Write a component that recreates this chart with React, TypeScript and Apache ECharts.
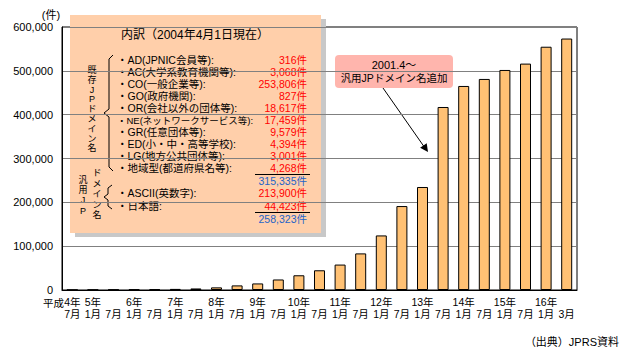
import React, { useEffect, useRef } from "react";
import * as echarts from "echarts";

// x-axis: upper line (year) and lower line (month)
const yearLabels = ["4年", "5年", "", "6年", "", "7年", "", "8年", "", "9年", "", "10年", "", "11年", "", "12年", "", "13年", "", "14年", "", "15年", "", "16年", ""];
const monthLabels = ["7月", "1月", "7月", "1月", "7月", "1月", "7月", "1月", "7月", "1月", "7月", "1月", "7月", "1月", "7月", "1月", "7月", "1月", "7月", "1月", "7月", "1月", "7月", "1月", "3月"];
// number of JP domain names
const domainCounts = [400, 700, 1000, 1400, 1900, 2500, 3500, 6000, 10500, 15000, 24000, 33600, 45000, 58000, 83500, 124500, 191500, 235000, 417500, 465500, 481500, 502000, 516500, 555000, 573658];
const yTicks = [0, 100000, 200000, 300000, 400000, 500000, 600000];

// breakdown (as of 2004-04-01)
const existingNames = ["・AD(JPNIC会員等):", "・AC(大学系教育機関等):", "・CO(一般企業等):", "・GO(政府機関):", "・OR(会社以外の団体等):", "・NE(ネットワークサービス等):", "・GR(任意団体等):", "・ED(小・中・高等学校):", "・LG(地方公共団体等):", "・地域型(都道府県名等):"];
const existingCounts = [316, 3068, 253806, 827, 18617, 17459, 9579, 4394, 3001, 4268];
const genericNames = ["・ASCII(英数字):", "・日本語:"];
const genericCounts = [213900, 44423];
const existingLabel = ["既", "存", "J", "P", "ド", "メ", "イ", "ン", "名"];
const genericLabelA = ["汎", "用", "J", "P"];
const genericLabelB = ["ド", "メ", "イ", "ン", "名"];

const MIX = "'Liberation Sans', 'Noto Sans CJK JP', sans-serif";
const fmt = (n: number) => n.toLocaleString("en-US");

export default function App() {
  const ref = useRef<HTMLDivElement>(null);
  useEffect(() => {
    document.body.style.margin = "0";
    const chart = echarts.init(ref.current!, null, { renderer: "svg" });
    const cats = monthLabels.map((m, i) => yearLabels[i] + m + i);

    const txt = (text: string, x: number, y: number, opts: any = {}) => {
      const fs = opts.fontSize || 11;
      return {
        type: "text",
        x,
        y,
        style: {
          text,
          fill: opts.fill || "#000",
          fontSize: fs,
          fontFamily: opts.fontFamily || MIX,
          align: opts.align || "left",
          verticalAlign: "middle",
          lineHeight: opts.lineHeight || fs,
        },
      };
    };

    const graphics: any[] = [];
    // inset box with shadow
    graphics.push({ type: "rect", shape: { x: 75, y: 19, width: 251, height: 218 }, style: { fill: "#C8C8C8" } });
    graphics.push({ type: "rect", shape: { x: 70, y: 15, width: 251, height: 218 }, style: { fill: "#FFCFAA" } });
    graphics.push(txt("内訳（2004年4月1日現在）", 195, 35, { align: "center", fontSize: 12 }));

    existingNames.forEach((n, i) => {
      const y = 60 + i * 12;
      graphics.push(txt(n, 117, y, { fontSize: n.length > 16 ? 9.5 : 10.5 }));
      graphics.push(txt(fmt(existingCounts[i]) + "件", 307, y, { align: "right", fill: "#FF0000", fontSize: 10.5 }));
    });
    const existTotal = existingCounts.reduce((a, b) => a + b, 0);
    graphics.push({ type: "line", shape: { x1: 255, y1: 174.5, x2: 310, y2: 174.5 }, style: { stroke: "#000", lineWidth: 1 } });
    graphics.push(txt(fmt(existTotal) + "件", 307, 181, { align: "right", fill: "#1E64C8", fontSize: 10.5 }));

    genericNames.forEach((n, i) => {
      const y = 193 + i * 13;
      graphics.push(txt(n, 117, y, { fontSize: 10.5 }));
      graphics.push(txt(fmt(genericCounts[i]) + "件", 307, y, { align: "right", fill: "#FF0000", fontSize: 10.5 }));
    });
    const genTotal = genericCounts.reduce((a, b) => a + b, 0);
    graphics.push({ type: "line", shape: { x1: 255, y1: 212.5, x2: 310, y2: 212.5 }, style: { stroke: "#000", lineWidth: 1 } });
    graphics.push(txt(fmt(genTotal) + "件", 307, 219, { align: "right", fill: "#1E64C8", fontSize: 10.5 }));

    // vertical labels, one character each
    existingLabel.forEach((c, i) => graphics.push(txt(c, 92, 70 + i * 9.8, { align: "center", fontSize: 9, lineHeight: 9 })));
    genericLabelA.forEach((c, i) => graphics.push(txt(c, 83, 180 + i * 10.2, { align: "center", fontSize: 9, lineHeight: 9 })));
    genericLabelB.forEach((c, i) => graphics.push(txt(c, 97, 173 + i * 10.5, { align: "center", fontSize: 9, lineHeight: 9 })));
    // braces
    graphics.push({ type: "polyline", shape: { points: [[113, 55], [109, 59], [109, 109], [104, 113], [109, 117], [109, 167], [113, 171]] }, style: { stroke: "#000", fill: null, lineWidth: 1 } });
    graphics.push({ type: "polyline", shape: { points: [[112, 185], [108, 188], [108, 194], [104, 197], [108, 200], [108, 206], [112, 209]] }, style: { stroke: "#000", fill: null, lineWidth: 1 } });

    // annotation
    graphics.push({ type: "rect", shape: { x: 335, y: 55, width: 118, height: 33, r: 4 }, style: { fill: "#FFB5AD" } });
    graphics.push(txt("2001.4～", 394, 65, { align: "center" }));
    graphics.push(txt("汎用JPドメイン名追加", 394, 78, { align: "center", fontSize: 10.5 }));
    graphics.push({ type: "line", shape: { x1: 383, y1: 88, x2: 425, y2: 148 }, style: { stroke: "#000", lineWidth: 1 } });
    graphics.push({ type: "polygon", shape: { points: [[428, 152], [426.7, 143.2], [420.1, 147.8]] }, style: { fill: "#000" } });

    // misc texts
    graphics.push(txt("(件)", 51, 14.5, { align: "center" }));
    graphics.push(txt("平成", 64, 302.5, { align: "right", fontSize: 10.5 }));
    graphics.push(txt("（出典）JPRS資料", 619, 342, { align: "right" }));

    chart.setOption({
      animation: false,
      grid: { left: 62, right: 53, top: 27, height: 263, show: true, borderColor: "#000", borderWidth: 1 },
      xAxis: {
        type: "category",
        data: cats,
        axisLine: { lineStyle: { color: "#000" } },
        axisTick: { inside: true, length: 4, interval: 0, lineStyle: { color: "#000" } },
        axisLabel: {
          interval: 0,
          margin: 5.5,
          fontSize: 10.5,
          lineHeight: 12.5,
          color: "#000",
          fontFamily: MIX,
          formatter: (_v: string, i: number) => yearLabels[i] + "\n" + monthLabels[i],
        },
      },
      yAxis: {
        type: "value",
        min: yTicks[0],
        max: yTicks[yTicks.length - 1],
        interval: yTicks[1] - yTicks[0],
        axisLine: { show: true, lineStyle: { color: "#000" } },
        axisTick: { show: false },
        splitLine: { lineStyle: { color: "#808080" } },
        axisLabel: { margin: 9, fontSize: 11, color: "#000", fontFamily: "'Liberation Sans', Arial, sans-serif", formatter: (v: number) => fmt(v) },
      },
      series: [
        {
          type: "bar",
          data: domainCounts,
          barWidth: 11,
          itemStyle: { color: "#FFC174", borderColor: "#000", borderWidth: 1 },
        },
      ],
      graphic: graphics,
    });
    return () => chart.dispose();
  }, []);
  return <div ref={ref} style={{ width: 630, height: 360 }} />;
}
